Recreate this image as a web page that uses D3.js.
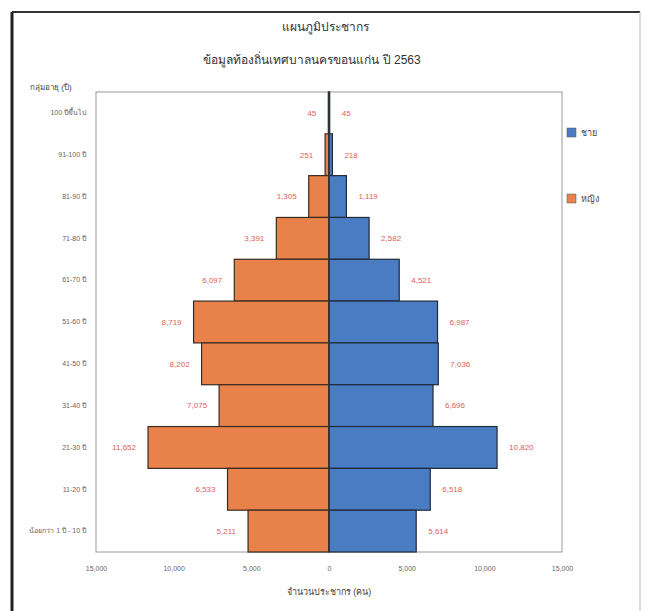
<!DOCTYPE html>
<html>
<head>
<meta charset="utf-8">
<script src="https://cdn.jsdelivr.net/npm/d3@7"></script>
<style>
  body { margin: 0; background: #fff; font-family: "Liberation Sans", "DejaVu Sans", sans-serif; }
  .tick text { fill: #666; }
</style>
</head>
<body>
<div id="chart"></div>
<script>
const width = 646;
const height = 611;

// age groups, oldest on top
const ageGroups = ["100 ปีขึ้นไป", "91-100 ปี", "81-90 ปี", "71-80 ปี", "61-70 ปี", "51-60 ปี",
  "41-50 ปี", "31-40 ปี", "21-30 ปี", "11-20 ปี", "น้อยกว่า 1 ปี - 10 ปี"];
const male = [45, 218, 1119, 2582, 4521, 6987, 7036, 6696, 10820, 6518, 5614];
const female = [45, 251, 1305, 3391, 6097, 8719, 8202, 7075, 11652, 6533, 5211];
const xTicks = [-15000, -10000, -5000, 0, 5000, 10000, 15000];

const maleColor = "#4a7cc4";
const femaleColor = "#e8824a";
const labelColor = "#e0605a";

const margin = { top: 92, right: 84, bottom: 59, left: 96 };

const svg = d3.select("#chart").append("svg")
    .attr("width", width)
    .attr("height", height);

// outer frame: dark top and left, faint right
svg.append("line")
    .attr("x1", 12).attr("x2", 640).attr("y1", 12).attr("y2", 12)
    .attr("stroke", "#333").attr("stroke-width", 2);
svg.append("line")
    .attr("x1", 12).attr("x2", 12).attr("y1", 12).attr("y2", height)
    .attr("stroke", "#222").attr("stroke-width", 3);
svg.append("line")
    .attr("x1", 640).attr("x2", 640).attr("y1", 12).attr("y2", height)
    .attr("stroke", "#bbb").attr("stroke-width", 1);

const x = d3.scaleLinear()
    .domain([-15000, 15000])
    .range([margin.left, width - margin.right]);

const y = d3.scaleBand()
    .domain(ageGroups)
    .range([margin.top, height - margin.bottom])
    .padding(0);

// plot area border
svg.append("rect")
    .attr("x", margin.left).attr("y", margin.top)
    .attr("width", x.range()[1] - x.range()[0])
    .attr("height", y.range()[1] - y.range()[0])
    .attr("fill", "none")
    .attr("stroke", "#999");

const rows = ageGroups.map((g, i) => ({ group: g, male: male[i], female: female[i] }));

// female bars on the left
svg.append("g").selectAll("rect")
    .data(rows)
    .enter().append("rect")
    .attr("x", d => x(-d.female))
    .attr("y", d => y(d.group))
    .attr("width", d => x(0) - x(-d.female))
    .attr("height", y.bandwidth())
    .attr("fill", femaleColor)
    .attr("stroke", "#3a2a20")
    .attr("stroke-width", 1.2);

// male bars on the right
svg.append("g").selectAll("rect")
    .data(rows)
    .enter().append("rect")
    .attr("x", x(0))
    .attr("y", d => y(d.group))
    .attr("width", d => x(d.male) - x(0))
    .attr("height", y.bandwidth())
    .attr("fill", maleColor)
    .attr("stroke", "#1f2a3a")
    .attr("stroke-width", 1.2);

// centre line
svg.append("line")
    .attr("x1", x(0)).attr("x2", x(0))
    .attr("y1", margin.top).attr("y2", height - margin.bottom)
    .attr("stroke", "#333")
    .attr("stroke-width", 1.5);

const fmt = d3.format(",");

// value labels
svg.append("g").selectAll("text")
    .data(rows)
    .enter().append("text")
    .attr("x", d => x(-d.female) - 12)
    .attr("y", d => y(d.group) + y.bandwidth() / 2)
    .attr("dy", "0.35em")
    .attr("text-anchor", "end")
    .attr("fill", labelColor)
    .style("font-size", "8px")
    .text(d => fmt(d.female));

svg.append("g").selectAll("text")
    .data(rows)
    .enter().append("text")
    .attr("x", d => x(d.male) + 12)
    .attr("y", d => y(d.group) + y.bandwidth() / 2)
    .attr("dy", "0.35em")
    .attr("text-anchor", "start")
    .attr("fill", labelColor)
    .style("font-size", "8px")
    .text(d => fmt(d.male));

// axes
const xAxis = svg.append("g")
    .attr("transform", `translate(0,${height - margin.bottom})`)
    .call(d3.axisBottom(x).tickValues(xTicks).tickFormat(d => fmt(Math.abs(d))).tickSize(0).tickPadding(14));
xAxis.select(".domain").remove();
xAxis.selectAll("text").style("font-size", "7px");

const yAxis = svg.append("g")
    .attr("transform", `translate(${margin.left},0)`)
    .call(d3.axisLeft(y).tickSize(0).tickPadding(10));
yAxis.select(".domain").remove();
yAxis.selectAll("text").style("font-size", "7px");

// titles
svg.append("text")
    .attr("x", 325).attr("y", 31)
    .attr("text-anchor", "middle")
    .style("font-size", "12px")
    .attr("fill", "#333")
    .text("แผนภูมิประชากร");

svg.append("text")
    .attr("x", 312).attr("y", 64)
    .attr("text-anchor", "middle")
    .style("font-size", "12px")
    .attr("fill", "#333")
    .text("ข้อมูลท้องถิ่นเทศบาลนครขอนแก่น ปี 2563");

svg.append("text")
    .attr("x", 30).attr("y", 90)
    .style("font-size", "8px")
    .attr("fill", "#444")
    .text("กลุ่มอายุ (ปี)");

svg.append("text")
    .attr("x", x(0)).attr("y", 595)
    .attr("text-anchor", "middle")
    .style("font-size", "9px")
    .attr("fill", "#444")
    .text("จำนวนประชากร (คน)");

// legend
const legend = svg.append("g").attr("transform", "translate(567,128)");
[["ชาย", maleColor], ["หญิง", femaleColor]].forEach(([name, col], i) => {
    const item = legend.append("g").attr("transform", `translate(0,${i * 66})`);
    item.append("rect")
        .attr("width", 9).attr("height", 9)
        .attr("fill", col)
        .attr("stroke", "#555")
        .attr("stroke-width", 0.5);
    item.append("text")
        .attr("x", 14).attr("y", 8)
        .style("font-size", "9px")
        .attr("fill", "#444")
        .text(name);
});
</script>
</body>
</html>
